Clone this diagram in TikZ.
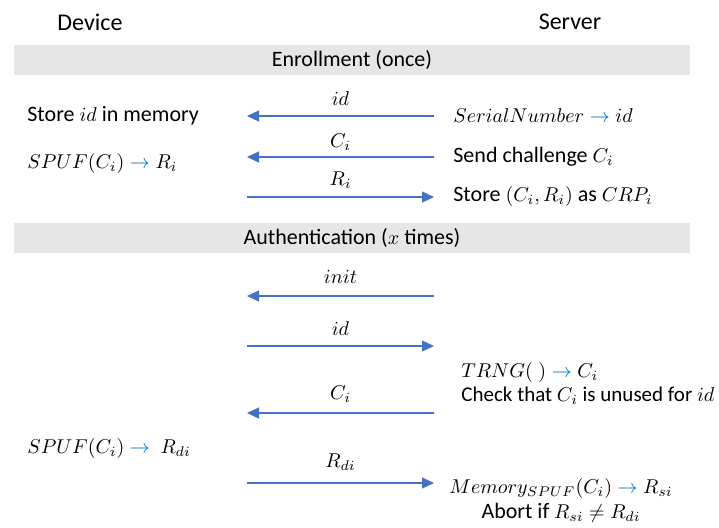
\documentclass[tikz,border=0pt]{standalone}
\usepackage{fontspec}
\setmainfont{Carlito}
\usetikzlibrary{arrows.meta, positioning}

\definecolor{lineblue}{HTML}{4472C4}
\definecolor{textblue}{HTML}{0070C0}
\definecolor{bandgray}{HTML}{E7E6E6}
\DeclareMathSizes{11}{10}{7}{5}
\DeclareMathSizes{10.5}{9.6}{6.7}{5}
\newcommand{\yields}{\mathrel{\textcolor{textblue}{\rightarrow}}}

\begin{document}
\begin{tikzpicture}[
    x=0.5pt, y=-0.5pt,
    >={Triangle[length=6pt, width=5.5pt]},
    font=\fontsize{11}{12.5}\selectfont,
    msg/.style={->, draw=lineblue, line width=0.6pt},
    lbl/.style={midway, above=5pt, inner sep=0pt},
    band/.style={fill=bandgray, minimum width=338pt, minimum height=15pt, inner sep=0pt},
    party/.style={font=\fontsize{12}{14}\selectfont},
    side/.style={anchor=west, inner sep=0pt},
]
    \useasboundingbox (0,0) rectangle (719,527);

    \node[party] (device) at (90,22)  {Device};
    \node[party] (server) at (570,22) {Server};

    \node[band] (enroll) at (352,60)  {Enrollment (once)};
    \node[band] (auth)   at (352,238) {Authentication ($x$ times)};

    % enrollment
    \node[side] (storeid)  at (27,116)  {Store $id$ in memory};
    \node[side] (spufi)    at (27,163)  {$SPUF(C_i) \yields R_i$};
    \node[side] (serial)   at (453,116) {$SerialNumber \yields id$};
    \node[side] (sendc)    at (453,157) {Send challenge $C_i$};
    \node[side] (storecrp) at (453,196) {Store $(C_i,R_i)$ as $CRP_i$};

    % authentication
    \node[side] (spufdi) at (27,448) {$SPUF(C_i) \yields\ R_{di}$};
    \node[side, align=left, font=\fontsize{10.5}{12}\selectfont] (trng) at (461,383)
        {$TRNG(\;) \yields C_i$\\Check that $C_i$ is unused for $id$};
    \node[align=center, inner sep=0pt] (verify) at (561,500)
        {$Memory_{SPUF}(C_i) \yields R_{si}$\\Abort if $R_{si} \neq R_{di}$};

    \coordinate (d1) at (247,116); \coordinate (s1) at (434,116);
    \coordinate (d2) at (247,157); \coordinate (s2) at (434,157);
    \coordinate (d3) at (247,197); \coordinate (s3) at (434,197);
    \coordinate (d4) at (247,296); \coordinate (s4) at (434,296);
    \coordinate (d5) at (247,346); \coordinate (s5) at (434,346);
    \coordinate (d6) at (247,413); \coordinate (s6) at (434,413);
    \coordinate (d7) at (247,483); \coordinate (s7) at (434,483);

    \path
        (s1) edge [msg] node [lbl]            {$id$}     (d1)
        (s2) edge [msg] node [lbl, above=3pt] {$C_i$}    (d2)
        (d3) edge [msg] node [lbl, above=4pt] {$R_i$}    (s3)
        (s4) edge [msg] node [lbl, above=6pt] {$init$}   (d4)
        (d5) edge [msg] node [lbl]            {$id$}     (s5)
        (s6) edge [msg] node [lbl]            {$C_i$}    (d6)
        (d7) edge [msg] node [lbl, above=6pt] {$R_{di}$} (s7)
    ;
\end{tikzpicture}
\end{document}
